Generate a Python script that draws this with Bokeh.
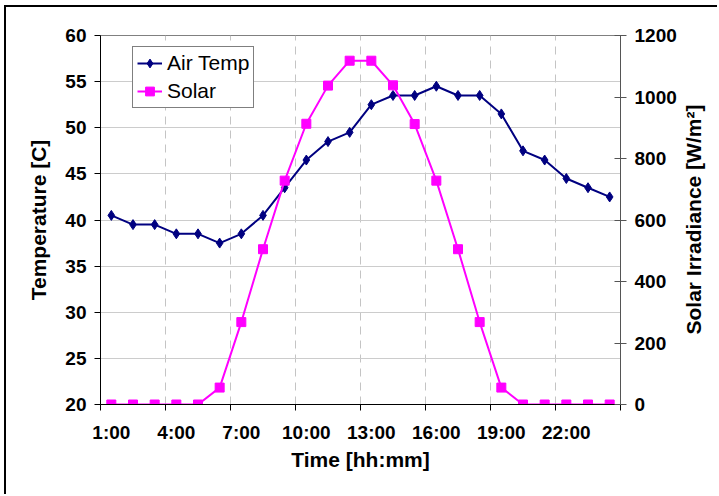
import math
from bokeh.plotting import figure
from bokeh.models import (Range1d, LinearAxis, FixedTicker, Legend,
                          LegendItem, ColumnDataSource)
from bokeh.embed import file_html
from bokeh.resources import INLINE

# ---------------- data ----------------
hours = ["1:00", "2:00", "3:00", "4:00", "5:00", "6:00", "7:00", "8:00",
         "9:00", "10:00", "11:00", "12:00", "13:00", "14:00", "15:00", "16:00",
         "17:00", "18:00", "19:00", "20:00", "21:00", "22:00", "23:00", "24:00"]
air_temp = [40.5, 39.5, 39.5, 38.5, 38.5, 37.5, 38.5, 40.5, 43.5, 46.5, 48.5, 49.5,
            52.5, 53.5, 53.5, 54.5, 53.5, 53.5, 51.5, 47.5, 46.5, 44.5, 43.5, 42.5]
solar = [0, 0, 0, 0, 0, 55, 268, 505, 728, 913, 1037, 1118,
         1118, 1038, 912, 728, 505, 268, 55, 0, 0, 0, 0, 0]
temp_ticks = [20, 25, 30, 35, 40, 45, 50, 55, 60]
solar_ticks = [0, 200, 400, 600, 800, 1000, 1200]
label_every = 3
x_title = "Time [hh:mm]"
left_title = "Temperature [C]"
right_title = "Solar Irradiance [W/m\u00b2]"

# ---------------- layout ----------------
n = len(hours)
xs = list(range(1, n + 1))
src = ColumnDataSource(dict(x=xs, hour=hours, temp=air_temp, solar=solar))

FONT = "Liberation Sans"

p = figure(width=713, height=489, output_backend="svg", toolbar_location=None,
           x_range=Range1d(0.5, n + 0.5), y_range=Range1d(temp_ticks[0], temp_ticks[-1]),
           min_border_left=94, min_border_right=98, min_border_top=28, min_border_bottom=92,
           background_fill_color="white", border_fill_color="white")
p.margin = (5, 0, 0, 4)
p.styles = {"border-left": "2px solid black", "border-top": "2px solid black"}
p.outline_line_color = "#808080"
p.outline_line_width = 1

p.extra_y_ranges = {"solar": Range1d(solar_ticks[0], solar_ticks[-1])}

# x axis: labels at category centres, tick marks at category boundaries
major = xs[::label_every]
minor = [x - 0.5 for x in xs[::label_every]] + [n + 0.5]
xticker = FixedTicker(ticks=major, minor_ticks=minor)
xa = p.xaxis[0]
xa.ticker = xticker
xa.major_label_overrides = {x: hours[x - 1] for x in major}
xa.major_tick_out = 6
xa.major_tick_in = 0
xa.major_tick_line_color = None
xa.minor_tick_out = 6
xa.minor_tick_in = 0
xa.minor_tick_line_color = "black"
xa.axis_line_color = "black"
xa.axis_label = x_title
xa.major_label_standoff = 11
xa.axis_label_standoff = 2

ya = p.yaxis[0]
ya.ticker = FixedTicker(ticks=temp_ticks)
ya.major_tick_out = 6
ya.major_tick_in = 0
ya.minor_tick_line_color = None
ya.axis_line_color = "black"
ya.axis_label = left_title
ya.major_label_standoff = 8
ya.axis_label_standoff = 12

# right axis; its title reads bottom-to-top (as in the reference), anchored
# at the start of the axis and pushed towards the middle with no-break spaces
ra = LinearAxis(y_range_name="solar", ticker=FixedTicker(ticks=solar_ticks),
                axis_label="\u00a0" * 12 + right_title)
ra.axis_label_orientation = math.pi / 2
ra.axis_label_align = "start"
ra.major_tick_out = 6
ra.major_tick_in = 6
ra.minor_tick_line_color = None
ra.axis_line_color = "#555555"
ra.major_tick_line_color = "#555555"
ra.major_label_standoff = 8
ra.axis_label_standoff = 14
p.add_layout(ra, "right")

for ax in (xa, ya, ra):
    ax.major_label_text_font = FONT
    ax.major_label_text_font_style = "bold"
    ax.major_label_text_font_size = "19px"
    ax.major_label_text_color = "black"
    ax.axis_label_text_font = FONT
    ax.axis_label_text_font_style = "bold"
    ax.axis_label_text_font_size = "21px"
    ax.axis_label_text_color = "black"

# grids
p.xgrid.ticker = xticker
p.xgrid.grid_line_color = None
p.xgrid.minor_grid_line_color = "#c4c4c4"
p.xgrid.minor_grid_line_dash = "8 6"
p.xgrid.minor_grid_line_width = 1
p.ygrid.ticker = FixedTicker(ticks=temp_ticks)
p.ygrid.grid_line_color = "#cccccc"
p.ygrid.grid_line_width = 1

# series
l1 = p.line("x", "temp", source=src, line_color="#000080", line_width=2)
m1 = p.scatter("x", "temp", source=src, marker="diamond", size=10,
               fill_color="#000080", line_color="#000080")
l2 = p.line("x", "solar", source=src, y_range_name="solar", line_color="#FF00FF", line_width=2)
m2 = p.scatter("x", "solar", source=src, y_range_name="solar", marker="square", size=9,
               fill_color="#FF00FF", line_color="#FF00FF")

legend = Legend(items=[LegendItem(label="Air Temp", renderers=[l1, m1]),
                       LegendItem(label="Solar", renderers=[l2, m2])],
                location=(32, 296))
legend.label_text_font = FONT
legend.label_text_font_size = "21px"
legend.label_text_color = "black"
legend.border_line_color = "black"
legend.border_line_width = 1
legend.background_fill_color = "white"
legend.background_fill_alpha = 1
legend.padding = 4
legend.spacing = 4
legend.margin = 0
legend.glyph_width = 25
legend.glyph_height = 22
legend.label_height = 22
legend.label_standoff = 5
p.add_layout(legend, "center")

open("out.html", "w").write(file_html(p, INLINE))
